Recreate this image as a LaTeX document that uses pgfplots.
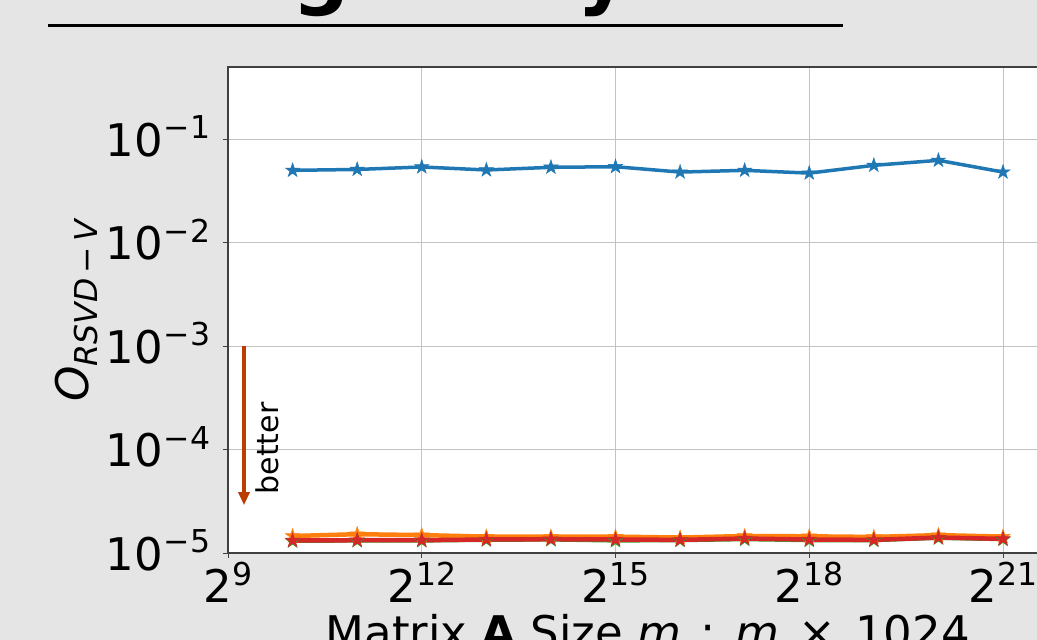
\documentclass[border=0pt]{standalone}
\usepackage{pgfplots}
\pgfplotsset{compat=1.18}
\usepackage{fontspec}
\setmainfont{DejaVu Sans}
\usetikzlibrary{arrows.meta}

\definecolor{bgc}{RGB}{229,229,229}
\definecolor{tblue}{HTML}{1F77B4}
\definecolor{torange}{HTML}{FF7F0E}
\definecolor{tgreen}{HTML}{2CA02C}
\definecolor{tred}{HTML}{D62728}
\definecolor{arrc}{RGB}{187,61,4}
\definecolor{gridc}{RGB}{195,195,195}

\newcommand{\pw}[2]{#1\raisebox{17.5pt}{\fontsize{31.5}{32}\selectfont #2}}
\newcommand{\py}[2]{#1\kern1pt\raisebox{17.5pt}{\fontsize{31.5}{32}\selectfont −\kern0.5pt#2}}

\pgfdeclareplotmark{fstar}{%
  \pgfpathmoveto{\pgfpointpolar{90}{\pgfplotmarksize}}%
  \pgfpathlineto{\pgfpointpolar{126}{0.382\pgfplotmarksize}}%
  \pgfpathlineto{\pgfpointpolar{162}{\pgfplotmarksize}}%
  \pgfpathlineto{\pgfpointpolar{198}{0.382\pgfplotmarksize}}%
  \pgfpathlineto{\pgfpointpolar{234}{\pgfplotmarksize}}%
  \pgfpathlineto{\pgfpointpolar{270}{0.382\pgfplotmarksize}}%
  \pgfpathlineto{\pgfpointpolar{306}{\pgfplotmarksize}}%
  \pgfpathlineto{\pgfpointpolar{342}{0.382\pgfplotmarksize}}%
  \pgfpathlineto{\pgfpointpolar{18}{\pgfplotmarksize}}%
  \pgfpathlineto{\pgfpointpolar{54}{0.382\pgfplotmarksize}}%
  \pgfpathclose
  \pgfusepathqfillstroke}

\pgfplotstableread{
x        blue    orange   green    red
1024     0.0501  1.46e-5  1.30e-5  1.32e-5
2048     0.0511  1.52e-5  1.31e-5  1.33e-5
4096     0.0540  1.49e-5  1.31e-5  1.33e-5
8192     0.0505  1.44e-5  1.33e-5  1.35e-5
16384    0.0536  1.44e-5  1.34e-5  1.36e-5
32768    0.0543  1.44e-5  1.31e-5  1.35e-5
65536    0.0482  1.41e-5  1.32e-5  1.34e-5
131072   0.0501  1.46e-5  1.35e-5  1.38e-5
262144   0.0471  1.45e-5  1.32e-5  1.35e-5
524288   0.0560  1.43e-5  1.32e-5  1.34e-5
1048576  0.0626  1.49e-5  1.39e-5  1.41e-5
2097152  0.0482  1.44e-5  1.35e-5  1.37e-5
}\datatab

\begin{document}
\begin{tikzpicture}
\useasboundingbox (0pt,0pt) rectangle (1037pt,640pt);
\clip (0pt,0pt) rectangle (1037pt,640pt);
\fill[bgc] (0pt,0pt) rectangle (1037pt,640pt);
% cut-off title (only descenders visible)
\node[anchor=base west, inner sep=0pt, font=\fontsize{80}{96}\selectfont\bfseries] at (292pt,640pt) {g};
\node[anchor=base west, inner sep=0pt, font=\fontsize{80}{96}\selectfont\bfseries] at (577pt,640pt) {y};
\draw[line width=3.3pt] (48pt,614.7pt) -- (843pt,614.7pt);

\begin{axis}[
  at={(228pt,87pt)}, anchor=south west,
  scale only axis, width=839.6pt, height=486pt,
  xmode=log, ymode=log, log basis x=2,
  xmin=512, xmax=4194304, ymin=1e-5, ymax=0.5,
  axis background/.style={fill=white},
  axis line style={line width=1.2pt, color=black!75},
  grid=major,
  major grid style={line width=0.9pt, color=gridc},
  xminorticks=false, yminorticks=false,
  tick pos=left, tick align=outside,
  major tick length=5pt,
  tick style={line width=1pt, color=black!75},
  xtick={512,4096,32768,262144,2097152},
  xticklabels={\pw{2}{9},\pw{2}{12},\pw{2}{15},\pw{2}{18},\pw{2}{21}},
  ytick={1e-5,1e-4,1e-3,1e-2,1e-1},
  yticklabels={\py{10}{5},\py{10}{4},\py{10}{3},\py{10}{2},\py{10}{1}},
  tick label style={font=\fontsize{45}{54}\selectfont},
  xticklabel style={anchor=base, inner sep=0pt, yshift=-45pt},
  yticklabel style={anchor=base east, inner sep=0pt, xshift=-12pt, yshift=-17pt},
  xlabel={Matrix \textbf{A} Size \textit{m}\hspace{19.3pt}:\hspace{19.3pt}\textit{m}\hspace{19.3pt}×\hspace{19.3pt}1024},
  xlabel style={at={(axis description cs:0.5,-0.1975)}, anchor=base, inner sep=0pt, font=\fontsize{45}{54}\selectfont},
  ylabel={\textit{O}\raisebox{-9pt}{\fontsize{31.5}{32}\selectfont\textit{RSVD}\hspace{5pt}−\hspace{5pt}\textit{V}}},
  ylabel style={at={(axis description cs:-0.1667,0.5)}, anchor=base, rotate=0, inner sep=0pt, font=\fontsize{45}{54}\selectfont},
  clip=false,
]
\addplot[color=tblue, line width=3.5pt, mark=fstar, mark size=7.5pt, mark options={line width=0.5pt, fill=tblue}] table[x=x, y=blue] {\datatab};
\addplot[color=torange, line width=4.5pt, mark=fstar, mark size=7.5pt, mark options={line width=0.5pt, fill=torange}] table[x=x, y=orange] {\datatab};
\addplot[color=tgreen, line width=3.5pt, mark=fstar, mark size=7.5pt, mark options={line width=0.5pt, fill=tgreen}] table[x=x, y=green] {\datatab};
\addplot[color=tred, line width=4.5pt, mark=fstar, mark size=7.5pt, mark options={line width=0.5pt, fill=tred}] table[x=x, y=red] {\datatab};
\draw[arrc, line width=3.2pt, -{Triangle[length=13pt, width=11pt]}] (axis cs:608,1e-3) -- (axis cs:608,2.9e-5);
\node[rotate=90, anchor=base, inner sep=0pt, font=\fontsize{30}{36}\selectfont] at (axis cs:876,1.025e-4) {better};
\end{axis}
\end{tikzpicture}
\end{document}
